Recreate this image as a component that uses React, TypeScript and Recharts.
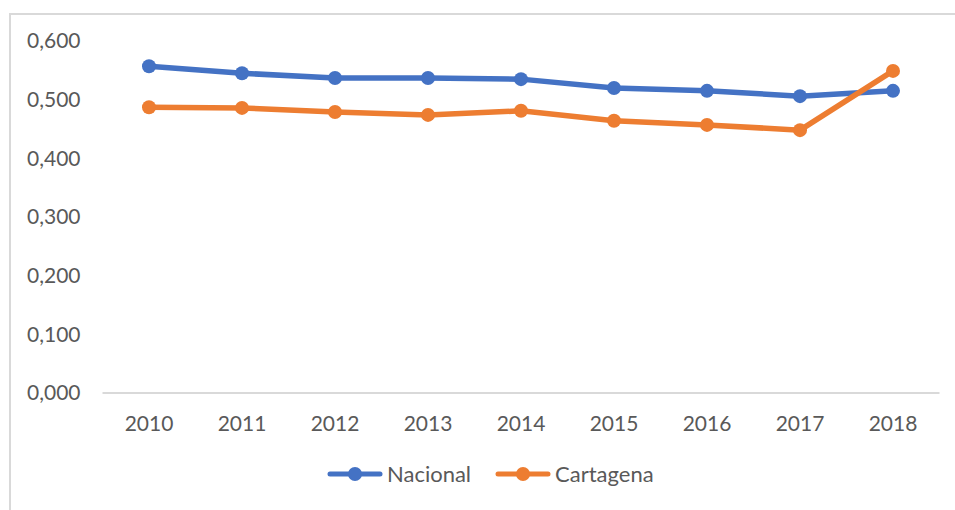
import { LineChart, Line, XAxis, YAxis, Legend } from 'recharts';

const YEARS = ['2010', '2011', '2012', '2013', '2014', '2015', '2016', '2017', '2018'];
const NACIONAL = [0.557, 0.545, 0.537, 0.537, 0.535, 0.52, 0.515, 0.506, 0.515];
const CARTAGENA = [0.487, 0.486, 0.479, 0.474, 0.481, 0.464, 0.457, 0.448, 0.549];
const Y_TICKS = [0, 0.1, 0.2, 0.3, 0.4, 0.5, 0.6];
const SERIES_ORDER = ['Nacional', 'Cartagena'];

const BLUE = '#4472C4';
const ORANGE = '#ED7D31';
const TEXT = '#595959';
const FONT = 'Lato, "Open Sans", sans-serif';

const data = YEARS.map((year, i) => ({
  year,
  Nacional: NACIONAL[i],
  Cartagena: CARTAGENA[i],
}));

type LegendEntry = { value?: string; color?: string };

function LineLegend({ payload }: { payload?: LegendEntry[] }) {
  const items = [...(payload ?? [])].sort(
    (a, b) => SERIES_ORDER.indexOf(a.value ?? '') - SERIES_ORDER.indexOf(b.value ?? ''),
  );
  return (
    <div style={{ display: 'flex', alignItems: 'center', gap: 24, fontFamily: FONT, fontSize: 22, color: TEXT }}>
      {items.map((p) => (
        <div key={p.value} style={{ display: 'flex', alignItems: 'center', gap: 4 }}>
          <svg width={56} height={16}>
            <line x1={3} y1={8} x2={53} y2={8} stroke={p.color} strokeWidth={5} strokeLinecap="round" />
            <circle cx={28} cy={8} r={7} fill={p.color} />
          </svg>
          <span>{p.value}</span>
        </div>
      ))}
    </div>
  );
}

export default function App() {
  return (
    <div style={{ position: 'absolute', left: 0, top: 0, width: 955, height: 510, overflow: 'hidden', background: '#fff' }}>
      <div
        style={{
          position: 'absolute',
          left: 9,
          top: 13,
          width: 980,
          height: 530,
          border: '2px solid #d9d9d9',
          boxSizing: 'border-box',
        }}
      />
      <LineChart
        width={955}
        height={510}
        data={data}
        margin={{ top: 41, right: 15.5, left: 0, bottom: 37 }}
        style={{ position: 'absolute', left: 0, top: 0 }}
      >
        <XAxis
          dataKey="year"
          padding={{ left: 46.5, right: 46.5 }}
          height={50}
          tickSize={0}
          tickMargin={23}
          axisLine={{ stroke: '#d9d9d9', strokeWidth: 2 }}
          tick={{ fill: TEXT, fontSize: 21, fontFamily: FONT }}
        />
        <YAxis
          width={102.5}
          domain={[0, 0.6]}
          ticks={Y_TICKS}
          tickFormatter={(v: number) => v.toFixed(3).replace('.', ',')}
          axisLine={false}
          tickLine={false}
          tickSize={0}
          tickMargin={22}
          tick={{ fill: TEXT, fontSize: 21, fontFamily: FONT }}
        />
        <Legend
          verticalAlign="bottom"
          content={<LineLegend />}
          wrapperStyle={{ left: 327, top: 460, height: 30, width: 'auto' }}
        />
        <Line
          dataKey="Nacional"
          stroke={BLUE}
          strokeWidth={5.5}
          dot={{ r: 7, fill: BLUE, stroke: BLUE, strokeWidth: 0 }}
          activeDot={false}
          isAnimationActive={false}
        />
        <Line
          dataKey="Cartagena"
          stroke={ORANGE}
          strokeWidth={5.5}
          dot={{ r: 7, fill: ORANGE, stroke: ORANGE, strokeWidth: 0 }}
          activeDot={false}
          isAnimationActive={false}
        />
      </LineChart>
    </div>
  );
}
